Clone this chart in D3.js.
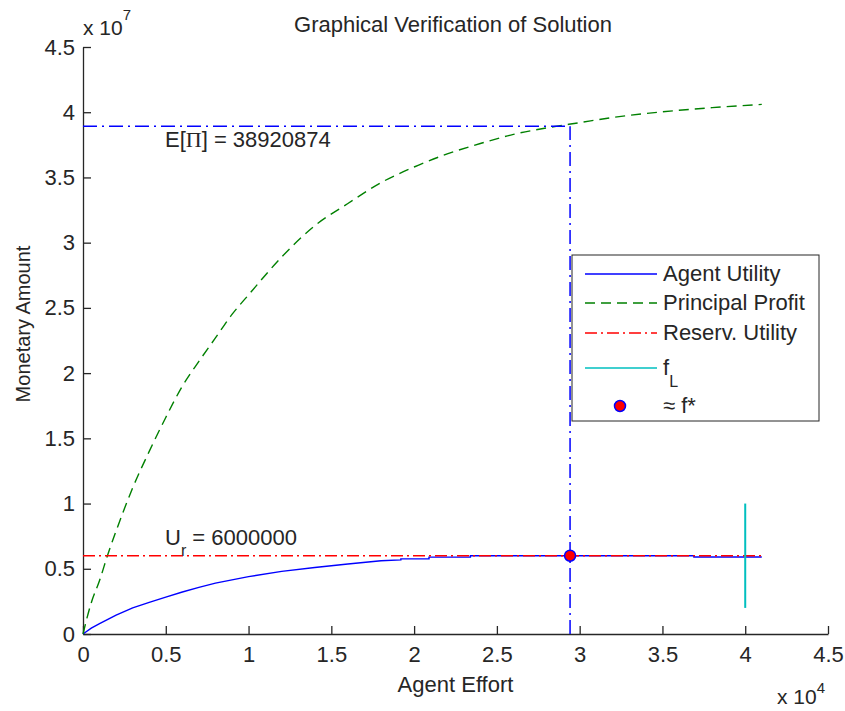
<!DOCTYPE html>
<html>
<head>
<meta charset="utf-8">
<script src="https://cdn.jsdelivr.net/npm/d3@7"></script>
<style>
  body { margin: 0; background: #fff; }
  svg text { font-family: 'Liberation Sans', Arial, Helvetica, sans-serif; font-size: 22px; fill: #262626; }
</style>
</head>
<body>
<div id="chart"></div>
<script>
// agent utility (blue, solid)
const utilEffort = [0, 500, 1000, 2000, 3000, 4000, 5000, 6000, 7000, 8000, 10000, 12000, 14000, 16000, 18000,
  19200, 19200, 20900, 20900, 23400, 23400, 36900, 36900, 41000]
const utilValues = [0, 450000, 800000, 1450000, 2000000, 2430000, 2830000, 3220000, 3570000, 3900000, 4400000,
  4800000, 5100000, 5370000, 5620000, 5680000, 5760000, 5760000, 5890000, 5890000, 6000000, 6000000, 5900000, 5900000]

// principal profit (green, dashed)
const profitEffort = [0, 500, 1000, 1500, 2000, 3000, 4000, 5000, 6000, 7000, 8000, 9000, 10000, 12000, 14000,
  16000, 18000, 20000, 22000, 24000, 26000, 28000, 30000, 32000, 34000, 36000, 38000, 41000]
const profitValues = [0, 2400000, 4100000, 6100000, 7900000, 11200000, 14000000, 16600000, 19000000, 20900000,
  22700000, 24500000, 26000000, 28900000, 31300000, 33000000, 34600000, 35800000, 36800000, 37600000,
  38300000, 38800000, 39200000, 39600000, 39900000, 40150000, 40350000, 40600000]

// reservation utility, optimum and limit
const reservUtility = 6000000
const reservRange = [0, 41000]
const optEffort = 29420
const optProfit = 38920874
const limitEffort = 40000
const limitRange = [2000000, 10000000]

const xTicks = [0, 5000, 10000, 15000, 20000, 25000, 30000, 35000, 40000, 45000]
const yTicks = [0, 5e6, 1e7, 1.5e7, 2e7, 2.5e7, 3e7, 3.5e7, 4e7, 4.5e7]

const legendItems = [
  { label: 'Agent Utility', color: '#0000ff', dash: null, kind: 'line' },
  { label: 'Principal Profit', color: '#008000', dash: '10,6', kind: 'line' },
  { label: 'Reserv. Utility', color: '#ff0000', dash: '12,4,2,4', kind: 'line' },
  { label: 'f', sub: 'L', color: '#00bfbf', dash: null, kind: 'line' },
  { label: '\u2248 f*', color: '#ff0000', dash: null, kind: 'dot' }
]

const width = 845
const height = 711
const margin = { top: 47, right: 17, bottom: 77, left: 83 }

const svg = d3.select('#chart').append('svg')
  .attr('width', width)
  .attr('height', height)

const x = d3.scaleLinear().domain([0, 45000]).range([margin.left, width - margin.right])
const y = d3.scaleLinear().domain([0, 4.5e7]).range([height - margin.bottom, margin.top])

// axes (ticks pointing inward, no box)
const xAxis = svg.append('g')
  .attr('transform', `translate(0,${y(0)})`)
  .call(d3.axisBottom(x).tickValues(xTicks).tickSizeInner(-8).tickSizeOuter(0)
    .tickPadding(12).tickFormat(d => d3.format('~g')(d / 1e4)))
svg.append('g')
  .attr('transform', `translate(${x(0)},0)`)
  .call(d3.axisLeft(y).tickValues(yTicks).tickSizeInner(-8).tickSizeOuter(0)
    .tickPadding(8).tickFormat(d => d3.format('~g')(d / 1e7)))
svg.selectAll('.domain, .tick line').attr('stroke', '#262626').attr('stroke-width', 1.3)
svg.selectAll('.tick text').style('font-size', '22px').attr('fill', '#262626')
  .style('font-family', "'Liberation Sans', Arial, sans-serif")
xAxis.selectAll('.tick text').attr('dy', '0.71em')

// exponent labels
const exp7 = svg.append('text').attr('x', x(0)).attr('y', 35).style('font-size', '21px')
exp7.append('tspan').text('x 10')
exp7.append('tspan').attr('dy', -15).style('font-size', '15px').text('7')
const exp4 = svg.append('text').attr('x', 777).attr('y', 704).style('font-size', '21px')
exp4.append('tspan').text('x 10')
exp4.append('tspan').attr('dy', -11).style('font-size', '15px').text('4')

// title and axis labels
svg.append('text').attr('x', 453).attr('y', 32)
  .attr('text-anchor', 'middle').text('Graphical Verification of Solution')
svg.append('text').attr('x', (x(0) + x(45000)) / 2).attr('y', 692)
  .attr('text-anchor', 'middle').text('Agent Effort')
svg.append('text').attr('transform', 'translate(30,324) rotate(-90)')
  .attr('text-anchor', 'middle').style('font-size', '20px').text('Monetary Amount')

const lineOf = (xs, vs) => d3.line().x((d, i) => x(xs[i])).y(d => y(d))(vs)

// agent utility
svg.append('path')
  .attr('d', lineOf(utilEffort, utilValues))
  .attr('fill', 'none').attr('stroke', '#0000ff').attr('stroke-width', 1.4)

// principal profit
svg.append('path')
  .attr('d', d3.line().curve(d3.curveMonotoneX).x((d, i) => x(profitEffort[i])).y(d => y(d))(profitValues))
  .attr('fill', 'none').attr('stroke', '#008000').attr('stroke-width', 1.4).attr('stroke-dasharray', '10,6')

// reservation utility
svg.append('line')
  .attr('x1', x(reservRange[0])).attr('x2', x(reservRange[1]))
  .attr('y1', y(reservUtility)).attr('y2', y(reservUtility))
  .attr('stroke', '#ff0000').attr('stroke-width', 1.5).attr('stroke-dasharray', '12,4,2,4')

// limit effort
svg.append('line')
  .attr('x1', x(limitEffort)).attr('x2', x(limitEffort))
  .attr('y1', y(limitRange[0])).attr('y2', y(limitRange[1]))
  .attr('stroke', '#00bfbf').attr('stroke-width', 2)

// optimum guides
svg.append('line')
  .attr('x1', x(0)).attr('x2', x(optEffort))
  .attr('y1', y(optProfit)).attr('y2', y(optProfit))
  .attr('stroke', '#0000ff').attr('stroke-width', 1.5).attr('stroke-dasharray', '14,5,2,5')
svg.append('line')
  .attr('x1', x(optEffort)).attr('x2', x(optEffort))
  .attr('y1', y(0)).attr('y2', y(optProfit))
  .attr('stroke', '#0000ff').attr('stroke-width', 1.5).attr('stroke-dasharray', '14,5,2,5')

svg.append('circle')
  .attr('cx', x(optEffort)).attr('cy', y(reservUtility)).attr('r', 5.5)
  .attr('fill', '#ff0000').attr('stroke', '#0000ff').attr('stroke-width', 1.5)

// annotations
const ep = svg.append('text').attr('x', 165).attr('y', 147)
ep.append('tspan').text('E[')
ep.append('tspan').style('font-family', "'Liberation Serif', 'Times New Roman', serif").text('\u03A0')
ep.append('tspan').text(`] = ${optProfit}`)
const ur = svg.append('text').attr('x', 165).attr('y', 545)
ur.append('tspan').text('U')
ur.append('tspan').attr('dy', 11).style('font-size', '16px').text('r')
ur.append('tspan').attr('dy', -11).text(' = ' + reservUtility)

// legend
const lg = svg.append('g').attr('transform', 'translate(572,255)')
lg.append('rect').attr('width', 247).attr('height', 166)
  .attr('fill', '#fff').attr('stroke', '#262626').attr('stroke-width', 1)
legendItems.forEach((d, i) => {
  const cy = [19, 48, 78, 113, 151][i]
  if (d.kind === 'line') {
    lg.append('line').attr('x1', 13).attr('x2', 85).attr('y1', cy).attr('y2', cy)
      .attr('stroke', d.color).attr('stroke-width', 1.5)
      .attr('stroke-dasharray', d.dash)
  } else {
    lg.append('circle').attr('cx', 48).attr('cy', cy).attr('r', 5.5)
      .attr('fill', d.color).attr('stroke', '#0000ff').attr('stroke-width', 1.5)
  }
  const t = lg.append('text').attr('x', 91).attr('y', cy + 7)
  t.append('tspan').text(d.label)
  if (d.sub) t.append('tspan').attr('dy', 12).style('font-size', '16px').text(d.sub)
})
</script>
</body>
</html>
